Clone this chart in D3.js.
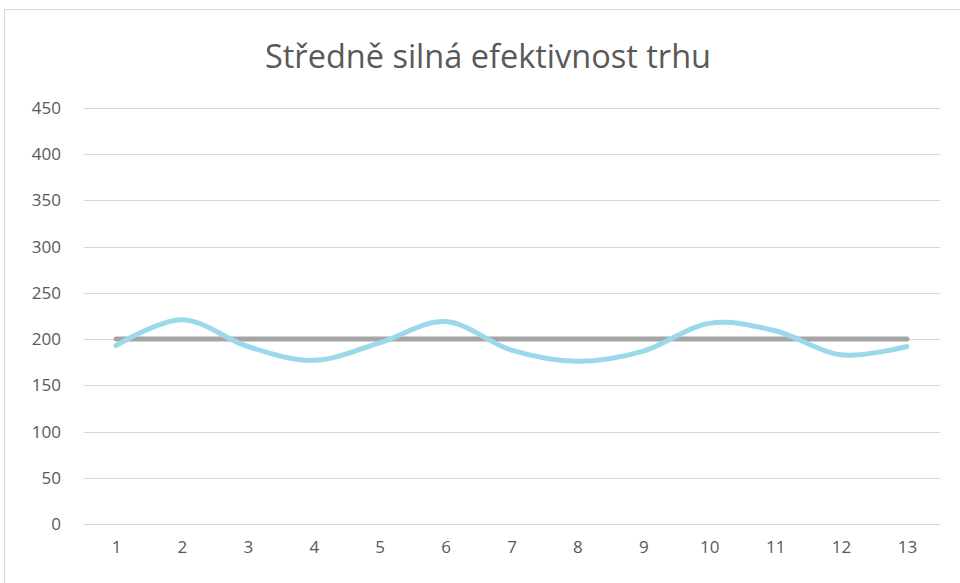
<!DOCTYPE html>
<html><head><meta charset="utf-8">
<script src="https://cdn.jsdelivr.net/npm/d3@7"></script>
<style>html,body{margin:0;padding:0;background:#fff;}</style>
</head><body>
<script>
const categories = ["1","2","3","4","5","6","7","8","9","10","11","12","13"];
const priceSeries = [193, 221, 192, 177, 196, 219, 188, 176, 187, 217, 209, 183, 192];
const valueSeries = [200, 200, 200, 200, 200, 200, 200, 200, 200, 200, 200, 200, 200];
const yTicks = [0, 50, 100, 150, 200, 250, 300, 350, 400, 450];
const title = "Středně silná efektivnost trhu";

const W = 960, H = 583;
const svg = d3.select("body").append("svg").attr("width", W).attr("height", H);
svg.append("rect").attr("x", 4.5).attr("y", 9.5).attr("width", W + 10).attr("height", H + 10)
  .attr("fill", "#fff").attr("stroke", "#d9d9d9").attr("stroke-width", 1);

const plot = {left: 84, right: 940, top: 108, bottom: 524};
const x = d3.scalePoint().domain(categories).range([116, 907]);
const y = d3.scaleLinear().domain([0, 450]).range([plot.bottom, plot.top]);

const font = "'Open Sans', sans-serif";

svg.append("text").attr("x", 488).attr("y", 68).attr("text-anchor", "middle")
  .attr("font-family", font).attr("font-size", 32.5).attr("fill", "#595959").text(title);

// gridlines
svg.append("g").selectAll("line").data(yTicks).join("line")
  .attr("x1", plot.left).attr("x2", plot.right)
  .attr("y1", d => Math.round(y(d)) + 0.5).attr("y2", d => Math.round(y(d)) + 0.5)
  .attr("stroke", "#d9d9d9").attr("stroke-width", 1);

// y axis labels
const yAxis = d3.axisLeft(y).tickValues(yTicks).tickSize(0).tickPadding(0);
const gy = svg.append("g").attr("transform", "translate(61,0)").call(yAxis);
gy.select(".domain").remove();
gy.selectAll("text").attr("font-family", font).attr("font-size", 17).attr("fill", "#595959");

// x axis labels
const xAxis = d3.axisBottom(x).tickSize(0).tickPadding(0);
const gx = svg.append("g").attr("transform", "translate(0,541)").call(xAxis);
gx.select(".domain").remove();
gx.selectAll("text").attr("font-family", font).attr("font-size", 17).attr("fill", "#595959");

const line = d3.line().x((d, i) => x(categories[i])).y(d => y(d));
svg.append("path").datum(valueSeries).attr("d", line.curve(d3.curveLinear))
  .attr("fill", "none").attr("stroke", "#a5a5a5").attr("stroke-width", 5).attr("stroke-linecap", "round");
svg.append("path").datum(priceSeries).attr("d", d3.line().x((d, i) => x(categories[i])).y(d => y(d)).curve(d3.curveCardinal.tension(0)))
  .attr("fill", "none").attr("stroke", "#9bd9ea").attr("stroke-width", 5).attr("stroke-linecap", "round");
</script>
</body></html>
